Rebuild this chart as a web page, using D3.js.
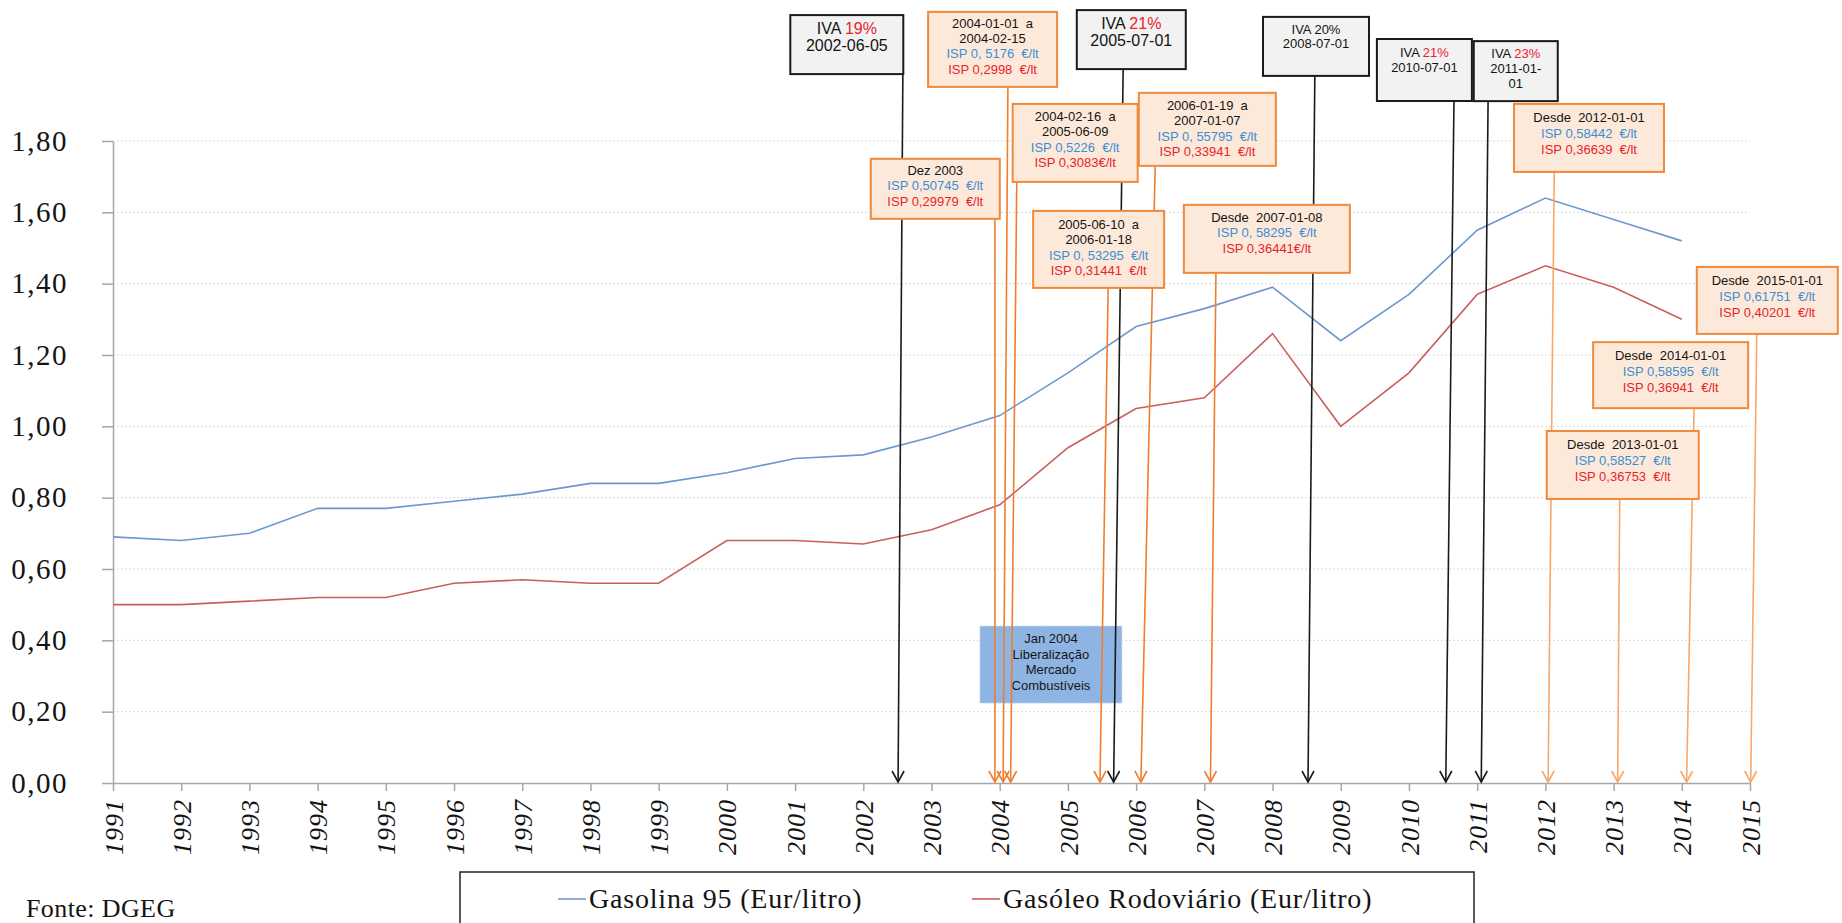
<!DOCTYPE html>
<html>
<head>
<meta charset="utf-8">
<title>Gasolina 95 e Gasóleo Rodoviário</title>
<script src="https://d3js.org/d3.v7.min.js" charset="utf-8"></script>
<style>
body { margin: 0; background: #fff; }
svg text { white-space: pre; }
.serif { font-family: "Liberation Serif", "DejaVu Serif", serif; }
.sans { font-family: "Liberation Sans", Arial, sans-serif; }
</style>
</head>
<body>
<script>
// anos e preços médios (Eur/litro)
var years = [1991, 1992, 1993, 1994, 1995, 1996, 1997, 1998, 1999, 2000, 2001, 2002,
             2003, 2004, 2005, 2006, 2007, 2008, 2009, 2010, 2011, 2012, 2013, 2014];
var gasolina = [0.69, 0.68, 0.70, 0.77, 0.77, 0.79, 0.81, 0.84, 0.84, 0.87, 0.91, 0.92,
                0.97, 1.03, 1.15, 1.28, 1.33, 1.39, 1.24, 1.37, 1.55, 1.64, 1.58, 1.52];
var gasoleo = [0.50, 0.50, 0.51, 0.52, 0.52, 0.56, 0.57, 0.56, 0.56, 0.68, 0.68, 0.67,
               0.71, 0.78, 0.94, 1.05, 1.08, 1.26, 1.00, 1.15, 1.37, 1.45, 1.39, 1.30];
var xTicks = [1991, 1992, 1993, 1994, 1995, 1996, 1997, 1998, 1999, 2000, 2001, 2002, 2003,
              2004, 2005, 2006, 2007, 2008, 2009, 2010, 2011, 2012, 2013, 2014, 2015];
var yTicks = [0, 0.2, 0.4, 0.6, 0.8, 1.0, 1.2, 1.4, 1.6, 1.8];
var seriesNames = ["Gasolina 95 (Eur/litro)", "Gasóleo Rodoviário (Eur/litro)"];

// caixas de anotação: canto superior esquerdo em (ano, valor), seta de "from" até "to" (ano)
var notes = [
  {kind: "iva", x0: 2000.93, y0: 2.153, w: 113, h: 59, from: 2002.58, to: 2002.51, fs: 16, lh: 17, first: 19,
   lines: [[["IVA ", "k"], ["19%", "r"]], [["2002-06-05", "k"]]]},
  {kind: "isp", x0: 2002.95, y0: 2.162, w: 129, h: 75, from: 2004.12, to: 2004.05, fs: 13, lh: 15.3, first: 16,
   lines: [[["2004-01-01  a", "k"]], [["2004-02-15", "k"]], [["ISP 0, 5176  €/lt", "b"]], [["ISP 0,2998  €/lt", "r"]]]},
  {kind: "iva", x0: 2005.13, y0: 2.167, w: 109, h: 59, from: 2005.81, to: 2005.67, fs: 16, lh: 17, first: 19,
   lines: [[["IVA ", "k"], ["21%", "r"]], [["2005-07-01", "k"]]]},
  {kind: "iva", x0: 2007.86, y0: 2.148, w: 106, h: 59, from: 2008.62, to: 2008.52, fs: 13, lh: 14.5, first: 17,
   lines: [[["IVA 20%", "k"]], [["2008-07-01", "k"]]]},
  {kind: "iva", x0: 2009.53, y0: 2.086, w: 95, h: 62, from: 2010.66, to: 2010.54, fs: 13, lh: 15, first: 18,
   lines: [[["IVA ", "k"], ["21%", "r"]], [["2010-07-01", "k"]]]},
  {kind: "iva", x0: 2010.95, y0: 2.080, w: 84, h: 60, from: 2011.16, to: 2011.06, fs: 13, lh: 15, first: 17,
   lines: [[["IVA ", "k"], ["23%", "r"]], [["2011-01-", "k"]], [["01", "k"]]]},
  {kind: "isp", x0: 2002.11, y0: 1.750, w: 129, h: 60, from: 2003.93, to: 2003.93, fs: 13, lh: 15.5, first: 16,
   lines: [[["Dez 2003", "k"]], [["ISP 0,50745  €/lt", "b"]], [["ISP 0,29979  €/lt", "r"]]]},
  {kind: "isp", x0: 2004.19, y0: 1.904, w: 125, h: 78, from: 2004.25, to: 2004.16, fs: 13, lh: 15.5, first: 17,
   lines: [[["2004-02-16  a", "k"]], [["2005-06-09", "k"]], [["ISP 0,5226  €/lt", "b"]], [["ISP 0,3083€/lt", "r"]]]},
  {kind: "isp", x0: 2006.04, y0: 1.935, w: 137, h: 73, from: 2006.28, to: 2006.07, fs: 13, lh: 15.5, first: 17,
   lines: [[["2006-01-19  a", "k"]], [["2007-01-07", "k"]], [["ISP 0, 55795  €/lt", "b"]], [["ISP 0,33941  €/lt", "r"]]]},
  {kind: "isp", x0: 2004.49, y0: 1.604, w: 131, h: 77, from: 2005.59, to: 2005.47, fs: 13, lh: 15.5, first: 18,
   lines: [[["2005-06-10  a", "k"]], [["2006-01-18", "k"]], [["ISP 0, 53295  €/lt", "b"]], [["ISP 0,31441  €/lt", "r"]]]},
  {kind: "isp", x0: 2006.70, y0: 1.621, w: 166, h: 68, from: 2007.17, to: 2007.09, fs: 13, lh: 15.5, first: 17,
   lines: [[["Desde  2007-01-08", "k"]], [["ISP 0, 58295  €/lt", "b"]], [["ISP 0,36441€/lt", "r"]]]},
  {kind: "isp", x0: 2011.54, y0: 1.904, w: 150, h: 68, from: 2012.13, to: 2012.04, fs: 13, lh: 16, first: 18, light: true,
   lines: [[["Desde  2012-01-01", "k"]], [["ISP 0,58442  €/lt", "b"]], [["ISP 0,36639  €/lt", "r"]]]},
  {kind: "isp", x0: 2014.22, y0: 1.447, w: 141, h: 67, from: 2015.10, to: 2015.01, fs: 13, lh: 16, first: 18, light: true,
   lines: [[["Desde  2015-01-01", "k"]], [["ISP 0,61751  €/lt", "b"]], [["ISP 0,40201  €/lt", "r"]]]},
  {kind: "isp", x0: 2012.70, y0: 1.236, w: 155, h: 66, from: 2014.18, to: 2014.07, fs: 13, lh: 16, first: 18, light: true,
   lines: [[["Desde  2014-01-01", "k"]], [["ISP 0,58595  €/lt", "b"]], [["ISP 0,36941  €/lt", "r"]]]},
  {kind: "isp", x0: 2012.02, y0: 0.987, w: 152, h: 68, from: 2013.09, to: 2013.06, fs: 13, lh: 16, first: 18, light: true,
   lines: [[["Desde  2013-01-01", "k"]], [["ISP 0,58527  €/lt", "b"]], [["ISP 0,36753  €/lt", "r"]]]},
  {kind: "mkt", x0: 2003.71, y0: 0.440, w: 142, h: 77, fs: 13, lh: 15.7, first: 17,
   lines: [[["Jan 2004", "k"]], [["Liberalização", "k"]], [["Mercado", "k"]], [["Combustíveis", "k"]]]}
];

var textColor = {k: "#141414", r: "#e8232c", b: "#3b8ed6"};
var lineColor = ["#6c98d0", "#c95f5c"];

var width = 1842, height = 923;
var x = d3.scaleLinear().domain([1991, 2015]).range([113, 1750]);
var y = d3.scaleLinear().domain([0, 1.8]).range([783, 141]);

var svg = d3.select("body").append("svg")
  .attr("width", width)
  .attr("height", height);

// grelha pontilhada
svg.append("g").selectAll("line")
  .data(yTicks.filter(function(d) { return d > 0; }))
  .enter().append("line")
  .attr("x1", x(1991)).attr("x2", x(2015))
  .attr("y1", function(d) { return y(d); })
  .attr("y2", function(d) { return y(d); })
  .attr("stroke", "#d9d9d9")
  .attr("stroke-dasharray", "2,2");

// eixo y
var yAxis = d3.axisLeft(y)
  .tickValues(yTicks)
  .tickSize(11)
  .tickSizeOuter(0)
  .tickPadding(34)
  .tickFormat(function(d) { return d3.format(".2f")(d).replace(".", ","); });
var gy = svg.append("g").attr("transform", "translate(" + x(1991) + ",0)").call(yAxis);
gy.selectAll("path, line").attr("stroke", "#a6a6a6").attr("stroke-width", 1.5);
gy.selectAll("text")
  .attr("class", "serif")
  .style("font-size", "29px")
  .style("letter-spacing", "1.5px")
  .attr("fill", "#141414");

// eixo x, anos na vertical em itálico
var xAxis = d3.axisBottom(x)
  .tickValues(xTicks)
  .tickSize(8)
  .tickSizeOuter(0)
  .tickFormat(function(d) { return d; });
var gx = svg.append("g").attr("transform", "translate(0," + y(0) + ")").call(xAxis);
gx.selectAll("path, line").attr("stroke", "#a6a6a6").attr("stroke-width", 1.5);
gx.selectAll("text")
  .attr("class", "serif")
  .style("font-size", "26px")
  .style("font-style", "italic")
  .style("letter-spacing", "1px")
  .style("text-anchor", "end")
  .attr("fill", "#141414")
  .attr("y", 0)
  .attr("x", -16)
  .attr("dy", "0.35em")
  .attr("transform", "rotate(-90)");

// séries
var line = d3.line()
  .x(function(d, i) { return x(years[i]); })
  .y(function(d) { return y(d); });

svg.append("g").selectAll("path")
  .data([gasolina, gasoleo])
  .enter().append("path")
  .attr("fill", "none")
  .attr("stroke", function(d, i) { return lineColor[i]; })
  .attr("stroke-width", 1.6)
  .attr("d", line);

// caixas
function drawBox(g, d) {
  var left = x(d.x0), top = y(d.y0);
  var fill = {iva: "#f2f2f2", isp: "#fde9d9", mkt: "#8db4e2"}[d.kind];
  var stroke = {iva: "#1a1a1a", isp: "#ef8a3d", mkt: "#c5d8ee"}[d.kind];
  g.append("rect")
    .attr("x", left).attr("y", top)
    .attr("width", d.w).attr("height", d.h)
    .attr("fill", fill)
    .attr("stroke", stroke)
    .attr("stroke-width", d.kind == "mkt" ? 1 : 2)
    .attr("stroke-dasharray", d.kind == "mkt" ? "3,2" : null);
  d.lines.forEach(function(parts, i) {
    var t = g.append("text")
      .attr("class", "sans")
      .attr("x", left + d.w / 2)
      .attr("y", top + d.first + i * d.lh)
      .attr("text-anchor", "middle")
      .style("font-size", d.fs + "px");
    parts.forEach(function(p) {
      t.append("tspan").attr("fill", textColor[p[1]]).text(p[0]);
    });
  });
}

var boxes = svg.append("g");
notes.filter(function(d) { return d.kind == "mkt"; }).forEach(function(d) { drawBox(boxes, d); });

// setas
var arrows = svg.append("g");
notes.filter(function(d) { return d.to; }).forEach(function(d) {
  var c = d.kind == "iva" ? "#1a1a1a" : (d.light ? "#f9a86a" : "#ef7f2e");
  var x1 = x(d.from), y1 = y(d.y0) + d.h, x2 = x(d.to), y2 = y(0) - 1;
  arrows.append("line")
    .attr("x1", x1).attr("y1", y1).attr("x2", x2).attr("y2", y2)
    .attr("stroke", c).attr("stroke-width", 1.6);
  arrows.append("path")
    .attr("d", "M" + (x2 - 6) + "," + (y2 - 11) + "L" + x2 + "," + y2 + "L" + (x2 + 6) + "," + (y2 - 11))
    .attr("fill", "none").attr("stroke", c).attr("stroke-width", 1.6);
});

var boxes2 = svg.append("g");
notes.filter(function(d) { return d.kind != "mkt"; }).forEach(function(d) { drawBox(boxes2, d); });

// legenda
var leg = svg.append("g");
leg.append("rect")
  .attr("x", 460).attr("y", 872)
  .attr("width", 1014).attr("height", 70)
  .attr("fill", "#fff")
  .attr("stroke", "#222").attr("stroke-width", 1.5);
var legX = [558, 972];
seriesNames.forEach(function(name, i) {
  leg.append("line")
    .attr("x1", legX[i]).attr("x2", legX[i] + 28)
    .attr("y1", 899).attr("y2", 899)
    .attr("stroke", lineColor[i]).attr("stroke-width", 1.6);
  leg.append("text")
    .attr("class", "serif")
    .attr("x", legX[i] + 31).attr("y", 908)
    .style("font-size", "28px")
    .style("letter-spacing", "0.8px")
    .attr("fill", "#141414")
    .text(name);
});

svg.append("text")
  .attr("class", "serif")
  .attr("x", 26).attr("y", 917)
  .style("font-size", "26px")
  .style("letter-spacing", "0.4px")
  .attr("fill", "#141414")
  .text("Fonte: DGEG");
</script>
</body>
</html>
